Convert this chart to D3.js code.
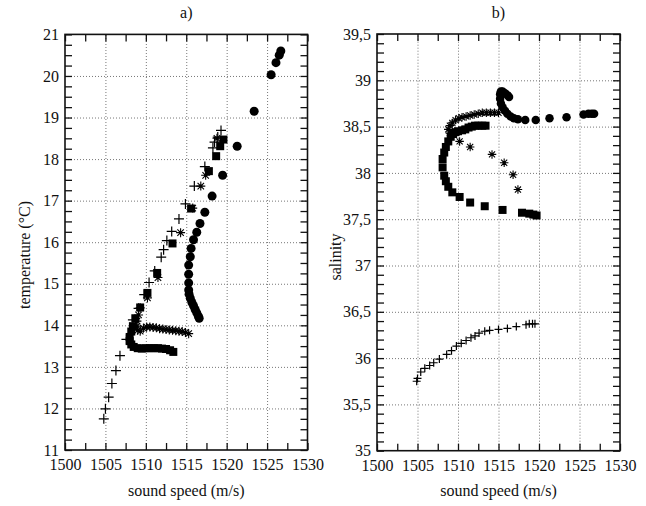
<!DOCTYPE html>
<html>
<head>
<meta charset="utf-8">
<script src="https://cdn.jsdelivr.net/npm/d3@7"></script>
<style>
  body { margin: 0; background: #fff; }
  svg text { font-family: "Liberation Serif", "Times New Roman", Times, "DejaVu Serif", serif; fill: #111; }
</style>
</head>
<body>
<svg id="chart" width="646" height="506"></svg>
<script>
// ---- tick values ----
const speedTicks = [1500, 1505, 1510, 1515, 1520, 1525, 1530];
const tempTicks = [11, 12, 13, 14, 15, 16, 17, 18, 19, 20, 21];
const salTicks = [35, 35.5, 36, 36.5, 37, 37.5, 38, 38.5, 39, 39.5];

// ---- panel a: temperature vs sound speed, [speed, temperature] ----
const tempCircle = [
  [1526.7, 20.60], [1526.5, 20.50], [1526.1, 20.32], [1525.5, 20.03], [1523.4, 19.15],
  [1521.3, 18.31], [1519.5, 17.61], [1518.2, 17.11], [1517.3, 16.72], [1516.7, 16.45],
  [1516.3, 16.24], [1515.9, 16.06], [1515.6, 15.85], [1515.5, 15.65], [1515.3, 15.45],
  [1515.3, 15.23], [1515.3, 15.02], [1515.3, 14.85], [1515.35, 14.75], [1515.5, 14.65],
  [1515.7, 14.55], [1515.9, 14.47], [1516.1, 14.38], [1516.3, 14.30], [1516.5, 14.22],
  [1516.6, 14.17]
];
const tempPlus = [
  [1519.3, 18.69], [1518.9, 18.53], [1518.5, 18.41], [1518.3, 18.27], [1517.3, 17.82],
  [1516.0, 17.35], [1514.9, 16.92], [1514.1, 16.56], [1513.2, 16.26], [1512.6, 16.04],
  [1512.2, 15.82], [1511.9, 15.64], [1511.1, 15.31], [1510.4, 15.03], [1509.8, 14.74],
  [1509.1, 14.41], [1508.4, 14.13], [1507.6, 13.66], [1506.8, 13.27], [1506.3, 12.91],
  [1505.8, 12.60], [1505.4, 12.27], [1505.0, 11.99], [1504.8, 11.75]
];
const tempStar = [
  [1518.8, 18.50], [1517.4, 17.61], [1516.8, 17.35], [1515.8, 16.82], [1514.3, 16.23],
  [1511.5, 15.15], [1510.2, 14.66], [1509.3, 14.42], [1509.1, 14.25], [1508.9, 14.10],
  [1508.9, 13.98], [1509.0, 13.88], [1509.3, 13.86], [1509.7, 13.93], [1510.1, 13.96],
  [1510.5, 13.96], [1510.9, 13.95], [1511.3, 13.94], [1511.7, 13.92], [1512.1, 13.91],
  [1512.5, 13.90], [1512.9, 13.89], [1513.3, 13.88], [1513.7, 13.87], [1514.1, 13.86],
  [1514.5, 13.85], [1514.9, 13.83], [1515.3, 13.80]
];
const tempSquare = [
  [1519.6, 18.47], [1519.2, 18.31], [1518.7, 18.07], [1517.8, 17.71], [1515.6, 16.81],
  [1513.3, 15.97], [1511.4, 15.26], [1510.2, 14.78], [1509.3, 14.43], [1508.7, 14.17],
  [1508.4, 13.98], [1508.2, 13.85], [1508.0, 13.72], [1508.0, 13.62], [1508.2, 13.54],
  [1508.5, 13.48], [1509.0, 13.45], [1509.5, 13.44], [1510.0, 13.45], [1510.5, 13.45],
  [1511.0, 13.45], [1511.5, 13.45], [1512.0, 13.44], [1512.5, 13.43], [1513.0, 13.40],
  [1513.4, 13.36]
];

// ---- panel b: salinity vs sound speed, [speed, salinity] ----
const salCircle = [
  [1526.8, 38.64], [1526.5, 38.64], [1526.1, 38.64], [1525.5, 38.63], [1523.4, 38.60],
  [1521.3, 38.59], [1519.6, 38.57], [1518.3, 38.57], [1517.4, 38.58], [1516.9, 38.59],
  [1516.5, 38.61], [1516.1, 38.64], [1515.8, 38.67], [1515.5, 38.71], [1515.3, 38.75],
  [1515.2, 38.80], [1515.2, 38.85], [1515.3, 38.88], [1515.5, 38.88], [1515.8, 38.86],
  [1516.1, 38.84], [1516.3, 38.82]
];
const salStar = [
  [1517.4, 37.82], [1516.8, 37.98], [1515.7, 38.11], [1514.2, 38.20], [1511.5, 38.28],
  [1510.2, 38.34], [1509.0, 38.43], [1508.8, 38.47], [1509.0, 38.51], [1509.3, 38.54],
  [1509.7, 38.57], [1510.1, 38.59], [1510.5, 38.60], [1511.0, 38.61], [1511.5, 38.62],
  [1512.0, 38.63], [1512.5, 38.64], [1513.0, 38.65], [1513.5, 38.65], [1514.0, 38.65],
  [1514.5, 38.65], [1515.0, 38.65]
];
const salSquare = [
  [1519.7, 37.54], [1519.3, 37.55], [1518.8, 37.56], [1517.9, 37.57], [1515.5, 37.60],
  [1513.3, 37.64], [1511.5, 37.68], [1510.2, 37.74], [1509.3, 37.79], [1508.8, 37.85],
  [1508.5, 37.91], [1508.3, 37.97], [1508.1, 38.06], [1508.1, 38.15], [1508.3, 38.22],
  [1508.5, 38.28], [1508.8, 38.34], [1509.1, 38.39], [1509.4, 38.42], [1509.7, 38.44],
  [1510.0, 38.45], [1510.5, 38.46], [1510.9, 38.47], [1511.3, 38.49], [1511.7, 38.50],
  [1512.1, 38.51], [1512.5, 38.51], [1513.0, 38.51], [1513.4, 38.51]
];
const salPlus = [
  [1504.9, 35.75], [1505.0, 35.78], [1505.4, 35.85], [1505.9, 35.89], [1506.5, 35.92],
  [1507.0, 35.95], [1507.7, 35.99], [1508.6, 36.04], [1509.2, 36.08], [1509.8, 36.13],
  [1510.4, 36.16], [1511.0, 36.19], [1511.6, 36.22], [1512.1, 36.24], [1512.6, 36.27],
  [1513.3, 36.29], [1513.9, 36.30], [1515.0, 36.31], [1516.1, 36.32], [1517.2, 36.34],
  [1518.4, 36.36], [1518.8, 36.37], [1519.2, 36.37], [1519.5, 36.37]
];

const FONT = '"Liberation Serif", "Times New Roman", Times, "DejaVu Serif", serif';
const svg = d3.select("#chart");

// marker shapes, centred on the origin
const markers = {
  circle: (g, s) => g.append("circle").attr("r", s / 2).attr("fill", "#000"),
  square: (g, s) => g.append("rect").attr("x", -s / 2).attr("y", -s / 2)
                     .attr("width", s).attr("height", s).attr("fill", "#000"),
  plus: (g, s) => g.append("path").attr("d", `M${-s/2},0H${s/2}M0,${-s/2}V${s/2}`)
                   .attr("stroke", "#000").attr("stroke-width", 1.2).attr("fill", "none"),
  star: (g, s) => {
    const r = s / 2, d = r * 0.72;
    g.append("path")
      .attr("d", `M${-r},0H${r}M0,${-r}V${r}M${-d},${-d}L${d},${d}M${-d},${d}L${d},${-d}`)
      .attr("stroke", "#000").attr("stroke-width", 1.1).attr("fill", "none");
    g.append("circle").attr("r", 1.6).attr("fill", "#000");
  }
};

function panel(cfg) {
  const x = d3.scaleLinear().domain([1500, 1530]).range([cfg.left, cfg.right]);
  const y = d3.scaleLinear().domain(cfg.yDomain).range([cfg.bottom, cfg.top]);
  const w = cfg.right - cfg.left, h = cfg.bottom - cfg.top;
  const g = svg.append("g");

  // dotted grid
  const grid = g.append("g").attr("class", "grid");
  grid.append("g").attr("transform", `translate(0,${cfg.bottom})`)
    .call(d3.axisBottom(x).tickValues(speedTicks.slice(1, -1)).tickSize(-h).tickFormat(""));
  grid.append("g").attr("transform", `translate(${cfg.left},0)`)
    .call(d3.axisLeft(y).tickValues(cfg.yTicks.slice(1, -1)).tickSize(-w).tickFormat(""));
  grid.selectAll(".domain").remove();
  grid.selectAll("line").attr("stroke", "#777").attr("stroke-width", 1)
    .attr("stroke-dasharray", "1,2");

  const minorX = d3.range(1500, 1530.01, 2.5);
  const minorY = d3.range(cfg.yDomain[0], cfg.yDomain[1] + 1e-6, cfg.yMinor);
  const tick = 7;

  // inward ticks on all four sides
  const axes = g.append("g");
  axes.append("g").attr("transform", `translate(0,${cfg.bottom})`)
    .call(d3.axisBottom(x).tickValues(minorX).tickSize(-tick).tickFormat(""));
  axes.append("g").attr("transform", `translate(0,${cfg.top})`)
    .call(d3.axisTop(x).tickValues(minorX).tickSize(-tick).tickFormat(""));
  axes.append("g").attr("transform", `translate(${cfg.left},0)`)
    .call(d3.axisLeft(y).tickValues(minorY).tickSize(-tick).tickFormat(""));
  axes.append("g").attr("transform", `translate(${cfg.right},0)`)
    .call(d3.axisRight(y).tickValues(minorY).tickSize(-tick).tickFormat(""));
  axes.selectAll(".domain").remove();
  axes.selectAll("line").attr("stroke", "#111").attr("stroke-width", 1.3);

  // tick labels
  const labX = g.append("g").attr("transform", `translate(0,${cfg.bottom})`)
    .call(d3.axisBottom(x).tickValues(speedTicks).tickSize(0).tickPadding(9)
      .tickFormat(d3.format("d")));
  const labY = g.append("g").attr("transform", `translate(${cfg.left},0)`)
    .call(d3.axisLeft(y).tickValues(cfg.yTicks).tickSize(0).tickPadding(6)
      .tickFormat(cfg.yFormat));
  [labX, labY].forEach(a => {
    a.attr("font-family", FONT).attr("font-size", 16);
    a.select(".domain").remove();
    a.selectAll("text").attr("fill", "#111");
  });

  // frame
  g.append("rect").attr("x", cfg.left).attr("y", cfg.top).attr("width", w).attr("height", h)
    .attr("fill", "none").attr("stroke", "#111").attr("stroke-width", 1.6);

  // data series
  cfg.series.forEach(s => {
    const sg = g.append("g");
    s.data.forEach(d => {
      const m = sg.append("g").attr("transform", `translate(${x(d[0])},${y(d[1])})`);
      markers[s.shape](m, s.size);
    });
  });

  // titles
  const t = g.append("g").attr("font-family", FONT).attr("font-size", 16);
  t.append("text").attr("x", (cfg.left + cfg.right) / 2).attr("y", 18)
    .attr("text-anchor", "middle").text(cfg.title);
  t.append("text").attr("x", (cfg.left + cfg.right) / 2).attr("y", 496)
    .attr("text-anchor", "middle").text("sound speed (m/s)");
  t.append("text")
    .attr("transform", `translate(${cfg.yLabelX},${cfg.yLabelY}) rotate(-90)`)
    .attr("text-anchor", "middle").text(cfg.yLabel);
}

panel({
  left: 65, right: 307.5, top: 34.4, bottom: 450,
  yDomain: [11, 21], yTicks: tempTicks, yMinor: 0.25,
  yFormat: d3.format("d"),
  title: "a)", yLabel: "temperature (°C)", yLabelX: 30, yLabelY: 255,
  series: [
    { data: tempCircle, shape: "circle", size: 9 },
    { data: tempSquare, shape: "square", size: 8 },
    { data: tempStar, shape: "star", size: 9 },
    { data: tempPlus, shape: "plus", size: 10 }
  ]
});

panel({
  left: 377, right: 620, top: 34, bottom: 450.7,
  yDomain: [35, 39.5], yTicks: salTicks, yMinor: 0.1,
  yFormat: v => (Number.isInteger(v) ? String(v) : v.toFixed(1).replace(".", ",")),
  title: "b)", yLabel: "salinity", yLabelX: 341, yLabelY: 257,
  series: [
    { data: salCircle, shape: "circle", size: 8.5 },
    { data: salSquare, shape: "square", size: 8 },
    { data: salStar, shape: "star", size: 8.5 },
    { data: salPlus, shape: "plus", size: 8 }
  ]
});
</script>
</body>
</html>
